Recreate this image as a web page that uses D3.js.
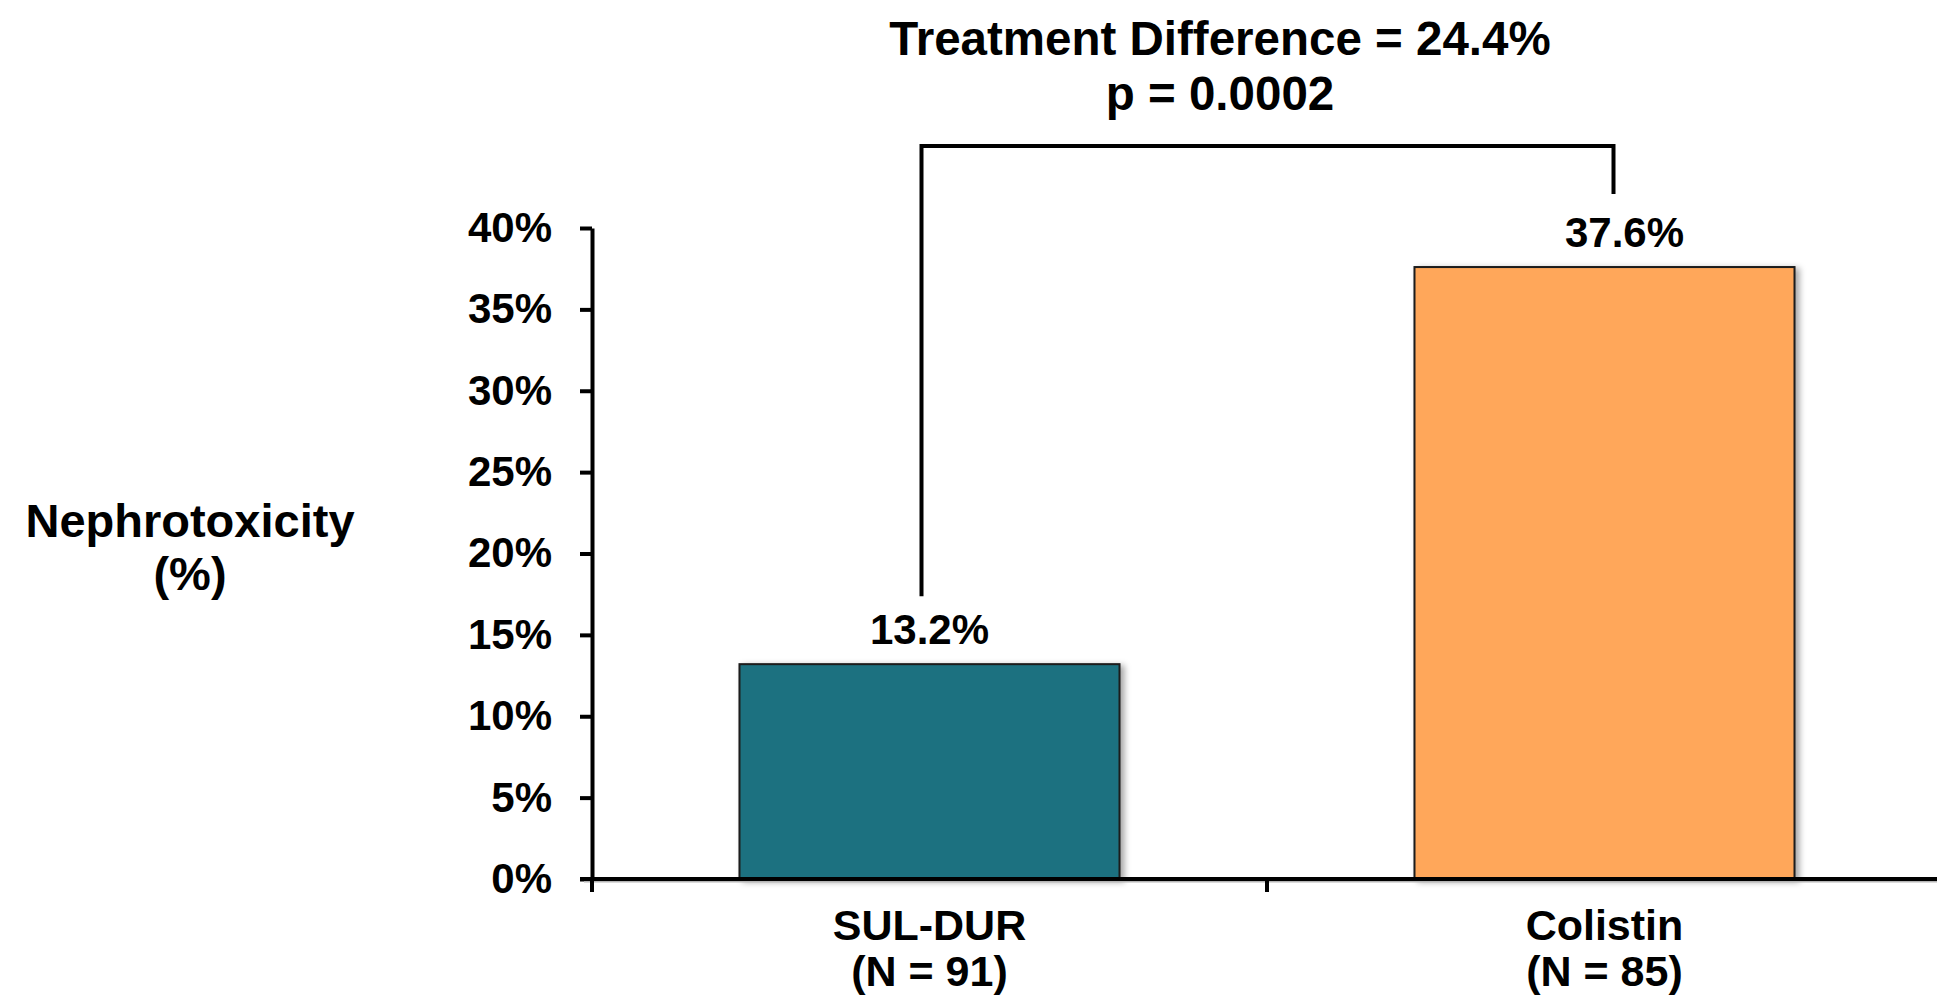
<!DOCTYPE html>
<html>
<head>
<meta charset="utf-8">
<script src="https://cdn.jsdelivr.net/npm/d3@7"></script>
<style>
  body { margin: 0; background: #fff; }
  svg text { font-family: "Liberation Sans", Arial, sans-serif; font-weight: bold; fill: #000; }
</style>
</head>
<body>
<svg id="chart" width="1937" height="997"></svg>
<script>
// Nephrotoxicity rate by treatment arm
const categories = ["SUL-DUR", "Colistin"];
const sampleSizes = ["(N = 91)", "(N = 85)"];
const rates = [13.2, 37.6];
const barColors = ["#1f7180", "#ffa75a"];
const yTicks = [0, 5, 10, 15, 20, 25, 30, 35, 40];
const titleLines = ["Treatment Difference = 24.4%", "p = 0.0002"];
const yTitleLines = ["Nephrotoxicity", "(%)"];

const W = 1937, H = 997;
const svg = d3.select("#chart");

const plotLeft = 592, plotBottom = 879, plotTop = 228, bandStep = 675;

const x = d3.scaleBand()
  .domain(categories)
  .range([plotLeft, plotLeft + bandStep * categories.length])
  .paddingInner(0.437)
  .paddingOuter(0.2185);

const y = d3.scaleLinear().domain([0, 40]).range([plotBottom, plotTop]);

// soft shadow under the bars
const defs = svg.append("defs");
defs.append("filter").attr("id", "barShadow")
  .attr("x", "-10%").attr("y", "-10%").attr("width", "130%").attr("height", "130%")
  .append("feDropShadow")
  .attr("dx", 4).attr("dy", 2).attr("stdDeviation", 3)
  .attr("flood-color", "#000").attr("flood-opacity", 0.35);

const data = categories.map((c, i) => ({ cat: c, n: sampleSizes[i], v: rates[i], color: barColors[i] }));
const cx = d => x(d.cat) + x.bandwidth() / 2;

// bars
svg.append("g").selectAll("rect").data(data).join("rect")
  .attr("x", d => x(d.cat))
  .attr("y", d => y(d.v))
  .attr("width", x.bandwidth())
  .attr("height", d => y(0) - y(d.v))
  .attr("fill", d => d.color)
  .attr("stroke", "#1a1a1a")
  .attr("stroke-width", 2)
  .attr("filter", "url(#barShadow)");

// value labels (the right one sits a little right of its bar centre)
const labelShift = [0, 20];
svg.append("g").selectAll("text").data(data).join("text")
  .attr("x", (d, i) => cx(d) + labelShift[i])
  .attr("y", d => y(d.v) - 20)
  .attr("text-anchor", "middle")
  .attr("font-size", 42)
  .text(d => d.v.toFixed(1) + "%");

// y axis
const yAxis = svg.append("g")
  .attr("transform", `translate(${plotLeft},0)`)
  .call(d3.axisLeft(y).tickValues(yTicks).tickFormat(d => d + "%")
    .tickSizeInner(12).tickSizeOuter(0).tickPadding(28));
yAxis.attr("font-family", null).attr("font-size", null);
yAxis.select(".domain").attr("stroke", "#000").attr("stroke-width", 4);
yAxis.selectAll(".tick line").attr("stroke", "#000").attr("stroke-width", 4);
yAxis.selectAll(".tick text").attr("font-size", 42).attr("fill", "#000");

// x axis line with ticks on the band boundaries
const xAxis = svg.append("g");
xAxis.append("line")
  .attr("x1", plotLeft - 8).attr("x2", W)
  .attr("y1", y(0) + 2.5).attr("y2", y(0) + 2.5)
  .attr("stroke", "#b5b5b5").attr("stroke-width", 2);
xAxis.append("line")
  .attr("x1", plotLeft - 12).attr("x2", W)
  .attr("y1", y(0)).attr("y2", y(0))
  .attr("stroke", "#000").attr("stroke-width", 4);
const bounds = d3.range(categories.length + 1).map(i => x.range()[0] + i * x.step());
xAxis.selectAll("line.bound").data(bounds).join("line")
  .attr("class", "bound")
  .attr("x1", d => d).attr("x2", d => d)
  .attr("y1", y(0)).attr("y2", y(0) + 13)
  .attr("stroke", "#000").attr("stroke-width", 4);

// category labels
const catLabels = svg.append("g").selectAll("text").data(data).join("text")
  .attr("text-anchor", "middle")
  .attr("font-size", 43);
catLabels.append("tspan").attr("x", cx).attr("y", 940).text(d => d.cat);
catLabels.append("tspan").attr("x", cx).attr("y", 986).text(d => d.n);

// significance bracket between the two arms
const bracketTop = 146;
svg.append("path")
  .attr("d", `M${cx(data[0]) - 8},${y(data[0].v) - 68}V${bracketTop}H${cx(data[1]) + 9}V${y(data[1].v) - 73}`)
  .attr("fill", "none").attr("stroke", "#000").attr("stroke-width", 4);

// annotation above the bracket
svg.append("g").selectAll("text").data(titleLines).join("text")
  .attr("x", 1220)
  .attr("y", (d, i) => 55 + i * 55)
  .attr("text-anchor", "middle")
  .attr("font-size", 47.5)
  .text(d => d);

// y axis title
svg.append("g").selectAll("text").data(yTitleLines).join("text")
  .attr("x", 190)
  .attr("y", (d, i) => 537 + i * 53)
  .attr("text-anchor", "middle")
  .attr("font-size", 47)
  .text(d => d);
</script>
</body>
</html>
